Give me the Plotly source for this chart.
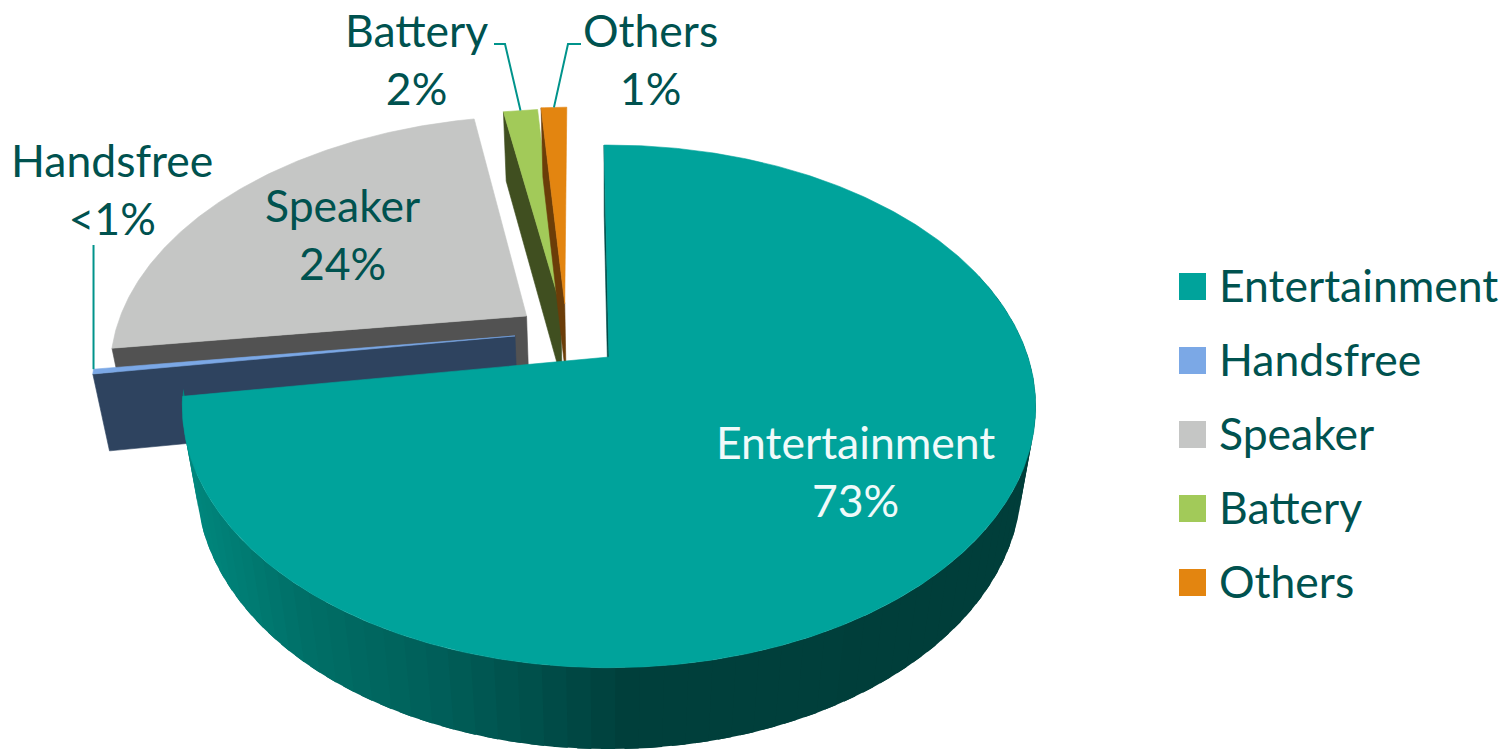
import math
import plotly.graph_objects as go

# ---- data ----
categories = ["Entertainment", "Handsfree", "Speaker", "Battery", "Others"]
values = [72.8, 0.3, 24.1, 1.6, 1.2]
percent_labels = ["73%", "<1%", "24%", "2%", "1%"]

# ---- styles ----
top_colors = ["#00A39B", "#7BA8E6", "#C5C6C5", "#A2CA59", "#E38510"]
wall_colors = ["#004A46", "#2E435F", "#525252", "#404F20", "#6B3D08"]
legend_colors = top_colors
TEXT = "#00524F"
LEADER = "#00938B"
FONT = "Lato"
FS = 44.5

# ---- projection of the tilted pie onto the page ----
CX, CY = 609.0, 357.0
A, B = 419.0, 252.0
K = 0.189
C = 0.033
D = 79.0
START = -0.8
# slice explosion in disc units
explode = [(0.0, 0.0), (-0.228, -0.085), (-0.203, -0.168), (-0.12, -0.21), (-0.11, -0.22)]


def project(X, Y, z=0.0):
    w = 1 - K * Y + C * z
    return CX + A * X / w, CY + (B * Y + D * z) / w


def rim(theta, off, z=0.0):
    t = math.radians(theta)
    return project(math.sin(t) + off[0], -math.cos(t) + off[1], z)


def arc(a, b, off, z=0.0, n=120):
    return [rim(a + (b - a) * i / n, off, z) for i in range(n + 1)]


def poly(fig, pts, color, lw=0.6):
    fig.add_trace(go.Scatter(
        x=[p[0] for p in pts] + [pts[0][0]], y=[p[1] for p in pts] + [pts[0][1]],
        mode="lines", fill="toself", fillcolor=color,
        line=dict(color=color, width=lw), hoverinfo="skip", showlegend=False))


angles = []
acc = START
for v in values:
    angles.append((acc, acc + v * 3.6))
    acc += v * 3.6


def top_face(i):
    a, b = angles[i]
    off = explode[i]
    n = max(6, int((b - a) * 2))
    return [project(*off)] + arc(a, b, off, 0, n)


def cut_wall(i):
    a = angles[i][0]
    off = explode[i]
    return [project(*off), rim(a, off), rim(a, off, 1), project(off[0], off[1], 1)]


def wall_shade(x):
    stops = [(180, (0, 136, 126)), (300, (0, 110, 102)), (420, (0, 96, 90)),
             (520, (0, 80, 75)), (620, (0, 63, 59)), (1040, (0, 62, 58))]
    for (x0, c0), (x1, c1) in zip(stops, stops[1:]):
        if x <= x1:
            f = max(0.0, (x - x0) / (x1 - x0))
            return "rgb(%d,%d,%d)" % tuple(round(p + (q - p) * f) for p, q in zip(c0, c1))
    return "rgb(0,62,58)"


fig = go.Figure()

# back to front: Speaker, Handsfree, Battery, Others, Entertainment
for i in [2, 1, 3, 4]:
    poly(fig, cut_wall(i), wall_colors[i])
    poly(fig, top_face(i), top_colors[i])

# Entertainment: cut wall, shaded curved wall, top
poly(fig, cut_wall(0), wall_colors[0])
seg_a, seg_b = 70.0, angles[0][1]
N = 70
off0 = explode[0]
for j in range(N):
    a = seg_a + (seg_b - seg_a) * j / N
    # each band runs slightly under its neighbour so that no seam shows
    b = seg_a + (seg_b - seg_a) * (j + 1.6) / N
    quad = arc(a, b, off0, 0, 3) + arc(b, a, off0, 1, 3)
    poly(fig, quad, wall_shade(rim((a + b) / 2, off0)[0]), 0)
poly(fig, top_face(0), top_colors[0])


# leader lines end on the slice rims
def leader(points):
    fig.add_trace(go.Scatter(x=[p[0] for p in points], y=[p[1] for p in points], mode="lines",
                             line=dict(color=LEADER, width=2), hoverinfo="skip", showlegend=False))


hf_end = rim(angles[1][1], explode[1])
leader([(hf_end[0], 245), hf_end])
bat_end = rim(sum(angles[3]) / 2, explode[3])
leader([(494, 44), (505, 44), bat_end])
oth_end = rim(sum(angles[4]) / 2, explode[4])
leader([(581, 44), (568, 44), oth_end])

# data labels
label_pos = [(855, 470), (112, 188), (342, 233), (416, 58), (650, 58)]
label_cols = ["#F0FAFA", TEXT, TEXT, TEXT, TEXT]
for name, pct, pos, col in zip(categories, percent_labels, label_pos, label_cols):
    fig.add_annotation(x=pos[0], y=pos[1], xref="x", yref="y", showarrow=False,
                       text=name + "<br>" + pct.replace("<", "&lt;"),
                       font=dict(family=FONT, size=FS, color=col), align="center")

# legend
LEG_X, LEG_Y0, LEG_STEP = 1192.5, 286.5, 74
for k, (name, col) in enumerate(zip(categories, legend_colors)):
    fig.add_trace(go.Scatter(
        x=[LEG_X], y=[LEG_Y0 + k * LEG_STEP], mode="markers", name=name,
        marker=dict(symbol="square", size=27, color=col), hoverinfo="name", showlegend=False))
    fig.add_annotation(x=1217, y=LEG_Y0 - 2 + k * LEG_STEP, xref="x", yref="y", showarrow=False,
                       xanchor="left", text=name, font=dict(family=FONT, size=FS, color=TEXT))

axis = dict(visible=False, showgrid=False, zeroline=False, fixedrange=True)
fig.update_layout(
    width=1508, height=749, margin=dict(l=0, r=0, t=0, b=0),
    paper_bgcolor="white", plot_bgcolor="white", showlegend=False,
    xaxis=dict(range=[0, 1508], **axis),
    yaxis=dict(range=[749, 0], **axis),
)
fig.write_html("out.html", config={"displayModeBar": False},
               post_script="document.body.style.margin='0';document.body.style.overflow='hidden';")
